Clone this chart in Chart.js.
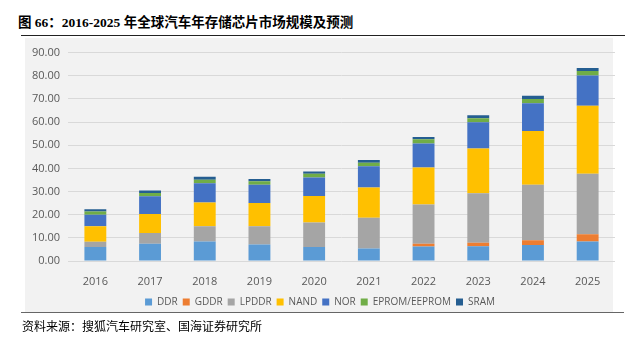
<!DOCTYPE html>
<html>
<head>
<meta charset="utf-8">
<script src="https://cdn.jsdelivr.net/npm/chart.js@4.4.0/dist/chart.umd.min.js"></script>
<style>
  html, body { margin: 0; padding: 0; background: #fff; }
  body { width: 630px; height: 342px; position: relative; overflow: hidden; }
  #titulo {
    position: absolute; left: 18px; top: 11px;
    font-family: "Liberation Serif", "Noto Sans CJK SC", serif;
    font-weight: bold; font-size: 13.5px; color: #000; white-space: nowrap;
  }
  #linea-sup { position: absolute; left: 21px; top: 35px; width: 604px; height: 1px; background: #222; }
  #fondo { position: absolute; left: 25px; top: 38px; width: 588px; height: 274px; background: #f2f2f2; }
  #linea-inf { position: absolute; left: 21px; top: 312px; width: 603px; height: 1px; background: #666; }
  #caja { position: absolute; left: 25px; top: 38px; width: 590px; height: 281px; }
  #fuente {
    position: absolute; left: 22px; top: 317px;
    font-family: "Noto Sans CJK SC", sans-serif; font-size: 12px; color: #000; white-space: nowrap;
  }
</style>
</head>
<body>
<div id="titulo">图 66：2016-2025 年全球汽车年存储芯片市场规模及预测</div>
<div id="linea-sup"></div>
<div id="fondo"></div>
<div id="linea-inf"></div>
<div id="caja"><canvas id="grafico"></canvas></div>
<div id="fuente">资料来源：搜狐汽车研究室、国海证券研究所</div>

<script>
// Años y valores (mil millones USD) por tipo de memoria
const anios = ['2016', '2017', '2018', '2019', '2020', '2021', '2022', '2023', '2024', '2025'];
const ddr    = [6.1, 7.4, 8.4, 7.1, 6.0, 5.4, 6.3, 6.4, 6.9, 8.4];
const gddr   = [0, 0, 0, 0, 0, 0, 1.1, 1.5, 2.1, 3.2];
const lpddr  = [2.2, 4.7, 6.6, 7.9, 10.6, 13.3, 17.0, 21.4, 23.9, 26.1];
const nand   = [6.7, 8.2, 10.3, 10.0, 11.5, 13.0, 16.0, 19.3, 23.2, 29.3];
const nor    = [5.0, 7.7, 8.3, 7.9, 8.0, 9.2, 10.3, 11.3, 12.0, 13.1];
const eprom  = [1.4, 1.4, 1.5, 1.5, 1.6, 1.5, 1.9, 1.7, 1.9, 2.0];
const sram   = [0.9, 1.0, 1.3, 1.0, 1.0, 1.2, 1.0, 1.3, 1.4, 1.3];
const ejeY = { min: 0, max: 90, paso: 10 };

const colores = {
    ddr: '#5b9bd5',
    gddr: '#ed7d31',
    lpddr: '#a5a5a5',
    nand: '#ffc000',
    nor: '#4472c4',
    eprom: '#70ad47',
    sram: '#255e91'
};

const fuenteEjes = "'Open Sans', 'Liberation Sans', sans-serif";

function serie(label, data, color) {
    return {
        label: label,
        data: data,
        backgroundColor: color,
        borderWidth: 0,
        categoryPercentage: 1,
        barPercentage: 0.4
    };
}

const ctx = document.getElementById('grafico').getContext('2d');
new Chart(ctx, {
    type: 'bar',
    data: {
        labels: anios,
        datasets: [
            serie('DDR', ddr, colores.ddr),
            serie('GDDR', gddr, colores.gddr),
            serie('LPDDR', lpddr, colores.lpddr),
            serie('NAND', nand, colores.nand),
            serie('NOR', nor, colores.nor),
            serie('EPROM/EEPROM', eprom, colores.eprom),
            serie('SRAM', sram, colores.sram)
        ]
    },
    options: {
        responsive: true,
        maintainAspectRatio: false,
        animation: false,
        layout: { padding: { top: 13, right: 0, bottom: 2, left: 0 } },
        plugins: {
            legend: {
                position: 'bottom',
                labels: {
                    color: '#595959',
                    font: { size: 10, family: fuenteEjes },
                    boxWidth: 7,
                    boxHeight: 7,
                    padding: 5
                }
            },
            tooltip: { enabled: false }
        },
        scales: {
            x: {
                stacked: true,
                grid: { display: false },
                border: { display: false },
                ticks: { color: '#595959', font: { size: 11, family: fuenteEjes }, padding: 6 },
                afterFit: (escala) => { escala.height = 31; }
            },
            y: {
                stacked: true,
                min: ejeY.min,
                max: ejeY.max,
                ticks: {
                    stepSize: ejeY.paso,
                    color: '#595959',
                    font: { size: 11, family: fuenteEjes },
                    padding: 8,
                    callback: (v) => v.toFixed(2)
                },
                grid: { color: '#d9d9d9', drawTicks: false },
                border: { display: false },
                afterFit: (escala) => { escala.width = 43; }
            }
        }
    }
});
</script>
</body>
</html>
